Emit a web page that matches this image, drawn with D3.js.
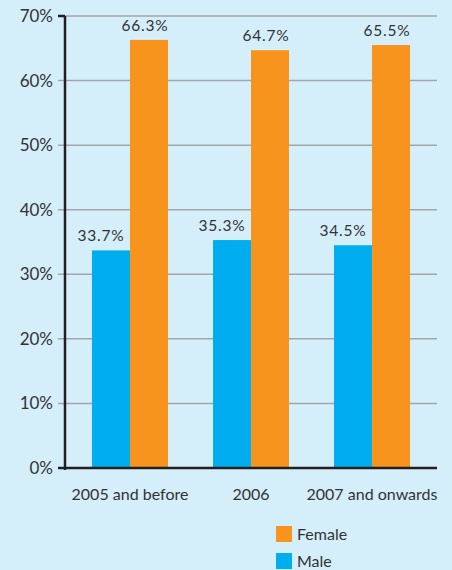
<!DOCTYPE html>
<html>
<head>
<meta charset="utf-8">
<script src="https://cdn.jsdelivr.net/npm/d3@7"></script>
<style>
  body { margin: 0; background: #d4eefa; }
  svg { display: block; }
  text { font-family: "Lato", "DejaVu Sans", sans-serif; fill: #333; }
</style>
</head>
<body>
<div id="chart"></div>
<script>
// chart data
var categories = ['2005 and before', '2006', '2007 and onwards']
var series = ['Male', 'Female']
var male = [33.7, 35.3, 34.5]
var female = [66.3, 64.7, 65.5]
var yTicks = [0, 10, 20, 30, 40, 50, 60, 70]

var colors = { Male: '#00aeef', Female: '#f7941d' }
var W = 452, H = 570

var svg = d3.select('#chart').append('svg')
  .attr('width', W).attr('height', H)

var x0 = d3.scaleBand().domain(categories).range([65, 437])
  .paddingInner(0.372).paddingOuter(0.223)
var x1 = d3.scaleBand().domain(series).range([0, x0.bandwidth()])
var y = d3.scaleLinear().domain([0, 70]).range([468, 16])

// gridlines
svg.append('g').selectAll('line')
  .data(yTicks.filter(function(d){ return d > 0 }))
  .enter().append('line')
    .attr('x1', 58).attr('x2', 437)
    .attr('y1', function(d){ return y(d) }).attr('y2', function(d){ return y(d) })
    .attr('stroke', '#a3a6a8').attr('stroke-width', 1.5)

// y tick labels
svg.append('g').selectAll('text')
  .data(yTicks).enter().append('text')
    .attr('x', 53).attr('y', function(d){ return y(d) + 6 })
    .attr('text-anchor', 'end').attr('font-size', 17)
    .text(function(d){ return d + '%' })

var rows = categories.map(function(c, i){
  return { cat: c, values: [ { s: 'Male', v: male[i] }, { s: 'Female', v: female[i] } ] }
})

var groups = svg.append('g').selectAll('g')
  .data(rows).enter().append('g')
    .attr('transform', function(d){ return 'translate(' + x0(d.cat) + ',0)' })

groups.selectAll('rect')
  .data(function(d){ return d.values }).enter().append('rect')
    .attr('x', function(d){ return x1(d.s) })
    .attr('width', x1.bandwidth())
    .attr('y', function(d){ return y(d.v) })
    .attr('height', function(d){ return y(0) - y(d.v) })
    .attr('fill', function(d){ return colors[d.s] })

groups.selectAll('text.val')
  .data(function(d){ return d.values }).enter().append('text')
    .attr('class', 'val')
    .attr('x', function(d){ return x1(d.s) + x1.bandwidth() / 2 + (d.s == 'Male' ? -10 : -4) })
    .attr('y', function(d){ return y(d.v) - 9 })
    .attr('text-anchor', 'middle').attr('font-size', 15.5)
    .attr('letter-spacing', 0.8)
    .text(function(d){ return d.v.toFixed(1) + '%' })

// axes
svg.append('line').attr('x1', 65).attr('x2', 65).attr('y1', 16).attr('y2', 470)
  .attr('stroke', '#231f20').attr('stroke-width', 2.5)
svg.append('line').attr('x1', 58).attr('x2', 437).attr('y1', 468).attr('y2', 468)
  .attr('stroke', '#231f20').attr('stroke-width', 2.5)
svg.append('line').attr('x1', 58).attr('x2', 65).attr('y1', 16).attr('y2', 16)
  .attr('stroke', '#231f20').attr('stroke-width', 2.5)

// x labels
svg.append('g').selectAll('text')
  .data(categories).enter().append('text')
    .attr('x', function(d){ return x0(d) + x0.bandwidth() / 2 })
    .attr('y', 500)
    .attr('text-anchor', 'middle').attr('font-size', 16)
    .text(function(d){ return d })

// legend
var legend = svg.append('g').selectAll('g')
  .data(['Female', 'Male']).enter().append('g')
    .attr('transform', function(d, i){ return 'translate(276,' + (526 + i * 27) + ')' })
legend.append('rect').attr('width', 16).attr('height', 16)
  .attr('fill', function(d){ return colors[d] })
legend.append('text').attr('x', 21).attr('y', 14).attr('font-size', 16)
  .text(function(d){ return d })
</script>
</body>
</html>
